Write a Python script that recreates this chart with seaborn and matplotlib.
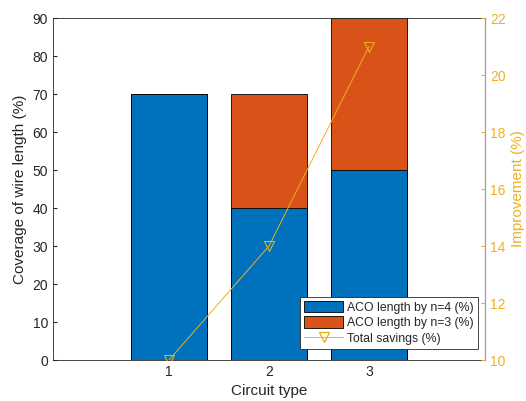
import numpy as np
import pandas as pd
import seaborn as sns
import matplotlib.pyplot as plt
from matplotlib.patches import Patch
from matplotlib.lines import Line2D

circuits = [1, 2, 3]
aco_n4 = [70, 40, 50]
aco_n3 = [0, 30, 40]
savings = [10, 14, 21]

blue = '#0072BD'
orange = '#D95319'
gold = '#EDB120'

sns.set_style("white")
plt.rcParams['font.family'] = ['Liberation Sans', 'DejaVu Sans']
plt.rcParams['xtick.direction'] = 'in'
plt.rcParams['ytick.direction'] = 'in'

df = pd.DataFrame({'circuit': circuits, 'n4': aco_n4, 'n3': aco_n3, 'sav': savings})
df['total'] = df['n4'] + df['n3']

fig = plt.figure(figsize=(5.26, 4.01), dpi=100)
ax = fig.add_axes([0.1008, 0.1022, 0.8212, 0.8529])

# stacked: draw the total first, then the bottom part on top of it
sns.barplot(data=df, x='circuit', y='total', native_scale=True, width=0.76,
            color=orange, saturation=1, edgecolor='black', linewidth=0.6, ax=ax)
sns.barplot(data=df, x='circuit', y='n4', native_scale=True, width=0.76,
            color=blue, saturation=1, edgecolor='black', linewidth=0.6, ax=ax)

ax.set_xlim(-0.16, 4.16)
ax.set_ylim(0, 90)
ax.set_xticks(circuits)
ax.set_yticks(range(0, 91, 10))
ax.set_xlabel('Circuit type', fontsize=11)
ax.set_ylabel('Coverage of wire length (%)', fontsize=11)
ax.tick_params(labelsize=10, length=3, colors='#262626')
for s in ['left', 'bottom', 'top']:
    ax.spines[s].set_color('#262626')
    ax.spines[s].set_linewidth(0.6)

ax2 = ax.twinx()
sns.lineplot(data=df, x='circuit', y='sav', color=gold, linewidth=0.7, marker='v',
             markersize=7, markerfacecolor='none', markeredgecolor=gold, ax=ax2)
ax2.set_ylim(10, 22)
ax2.set_yticks(range(10, 23, 2))
ax2.set_ylabel('Improvement (%)', fontsize=11, color=gold)
ax2.tick_params(axis='y', labelsize=10, colors=gold, length=3)
ax2.spines['right'].set_color(gold)
ax2.spines['right'].set_linewidth(0.6)
for s in ['left', 'bottom', 'top']:
    ax2.spines[s].set_visible(False)
ax2.set_xlabel('')

handles = [Patch(facecolor=blue, edgecolor='black', linewidth=0.6),
           Patch(facecolor=orange, edgecolor='black', linewidth=0.6),
           Line2D([], [], color=gold, linewidth=0.7, marker='v', markersize=7,
                  markerfacecolor='none')]
labels = ['ACO length by n=4 (%)', 'ACO length by n=3 (%)', 'Total savings (%)']
leg = ax2.legend(handles, labels, loc='lower right', bbox_to_anchor=(0.984, 0.032),
                 fontsize=8.8, frameon=True, fancybox=False, framealpha=1,
                 borderpad=0.35, handlelength=3.2, handleheight=1.05,
                 handletextpad=0.3, labelspacing=0.22, borderaxespad=0.0)
leg.get_frame().set_edgecolor('#262626')
leg.get_frame().set_linewidth(0.6)

fig.savefig('out.png', dpi=100)
